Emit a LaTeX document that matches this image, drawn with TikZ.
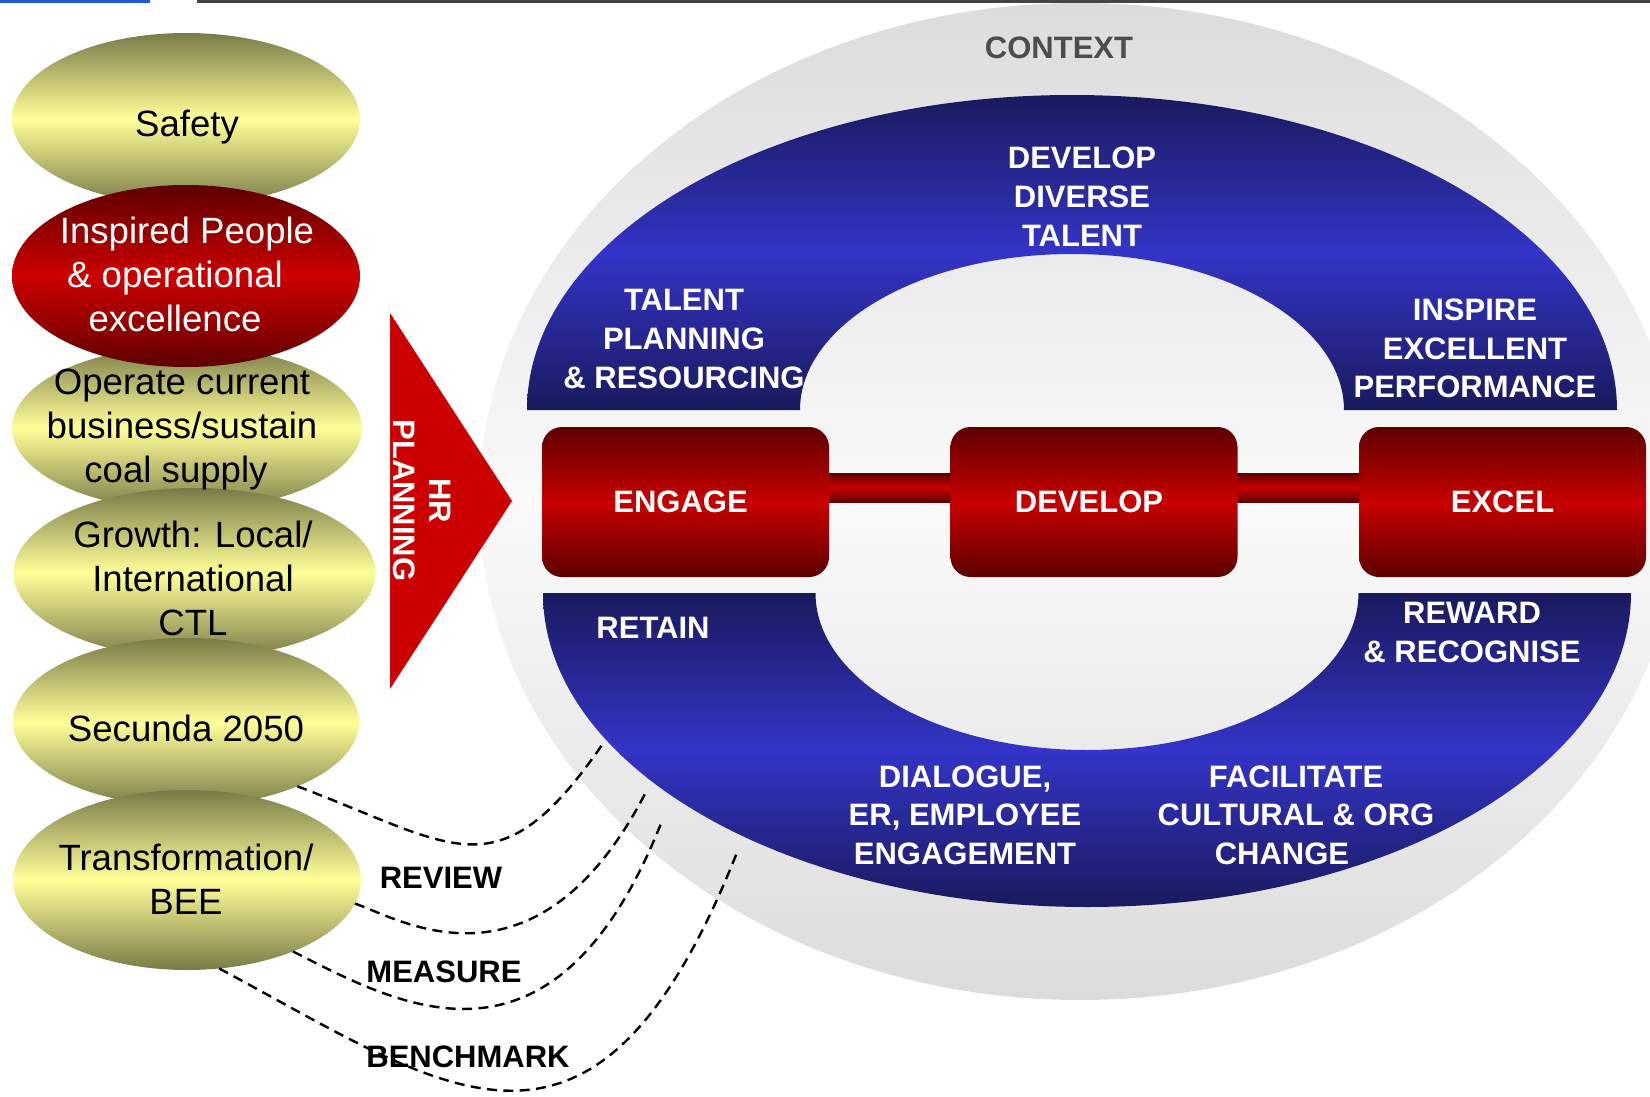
\documentclass[tikz,border=0pt]{standalone}
\usepackage{fontspec}
\setmainfont{Liberation Sans}
\usetikzlibrary{shapes.geometric}

\definecolor{ringdark}{HTML}{1A1A5E}
\definecolor{ringlight}{HTML}{3434C8}
\definecolor{boxdark}{HTML}{5E0000}
\definecolor{boxred}{HTML}{C80000}
\definecolor{yelldark}{HTML}{7A7A48}
\definecolor{yelllight}{HTML}{FFFF99}
\definecolor{ctxgray}{HTML}{DCDCDC}
\definecolor{ctxlight}{HTML}{FAFAFA}
\definecolor{arrowred}{HTML}{CC0000}
\definecolor{ctxtext}{HTML}{4D4D4D}
\definecolor{rulegray}{HTML}{444444}
\definecolor{ruleblue}{HTML}{2457D6}

\tikzset{
  goal/.style={ellipse, inner sep=0pt, outer sep=0pt,
    top color=yelldark, bottom color=yelldark, middle color=yelllight},
  goalhot/.style={ellipse, inner sep=0pt, outer sep=0pt,
    top color=boxdark, bottom color=boxdark, middle color=arrowred},
  goaltext/.style={align=center, font=\fontsize{18.3}{22}\selectfont},
  stage/.style={rounded corners=10pt, minimum width=143.5pt, minimum height=75pt,
    inner sep=0pt, outer sep=0pt, top color=boxdark, bottom color=boxdark,
    middle color=boxred, text=white, font=\bfseries\fontsize{15.5}{19.3}\selectfont},
  ringtext/.style={align=center, text=white, font=\bfseries\fontsize{15.5}{19.3}\selectfont},
  steptext/.style={font=\bfseries\fontsize{15.5}{19.3}\selectfont},
  cycleline/.style={black, line width=1.2pt, dash pattern=on 5pt off 3.2pt},
  barshade/.style={top color=boxdark, bottom color=boxdark, middle color=boxred},
  ringshade/.style={top color=ringdark, bottom color=ringdark, middle color=ringlight}
}

\begin{document}
\begin{tikzpicture}[x=0.5pt, y=-0.5pt]
\useasboundingbox (0,0) rectangle (1650,1097);
\clip (0,0) rectangle (1650,1097);
\fill[white] (0,0) rectangle (1650,1097);

% context halo
\shade[top color=ctxgray, bottom color=ctxgray, middle color=ctxlight]
  (1080,501.5) ellipse [x radius=300.5pt, y radius=249.25pt];
\node[steptext, text=ctxtext] (context) at (1059,47.7) {CONTEXT};

% upper and lower rings
\shade[ringshade] (527,410) arc[start angle=180, end angle=0, x radius=272.5pt, y radius=157.5pt]
  -- (1344,410) arc[start angle=0, end angle=180, x radius=136pt, y radius=78pt] -- cycle;
\shade[ringshade] (543,593) arc[start angle=180, end angle=360, x radius=272pt, y radius=157pt]
  -- (1358.5,593) arc[start angle=360, end angle=180, x radius=135.75pt, y radius=78.5pt] -- cycle;

% engage - develop - excel chain
\node[stage] (engage) at (685.5,502) {ENGAGE\hspace*{5pt}\mbox{}};
\node[stage] (develop) at (1094,502) {DEVELOP\hspace*{5pt}\mbox{}};
\node[stage] (excel) at (1502.5,502) {EXCEL};
\shade[barshade] (engage.east) ++(0,-29) rectangle (develop.west);
\shade[barshade] (develop.east) ++(0,-29) rectangle (excel.west);

% ring labels
\node[ringtext] (diverse) at (1082,196.7) {DEVELOP\\DIVERSE\\TALENT};
\node[ringtext] (planning) at (684,339) {TALENT\\PLANNING\\\& RESOURCING};
\node[ringtext] (inspire) at (1475,348.5) {INSPIRE\\EXCELLENT\\PERFORMANCE};
\node[ringtext] (retain) at (653,628) {RETAIN};
\node[ringtext] (reward) at (1472,632.5) {REWARD\\\& RECOGNISE};
\node[ringtext] (dialogue) at (965,815) {DIALOGUE,\\ER, EMPLOYEE\\ENGAGEMENT};
\node[ringtext] (facilitate) at (1296,815) {FACILITATE\\CULTURAL \& ORG\\CHANGE\hspace*{14pt}\mbox{}};

% HR planning arrow
\fill[arrowred] (390,313) -- (512,501) -- (390,689) -- cycle;
\node[align=center, text=white, rotate=-90, font=\bfseries\fontsize{15.5}{18}\selectfont]
  (hrplan) at (422,500.5) {HR\\PLANNING};

% strategic goals
\node[goal, minimum width=174pt, minimum height=86pt] (safety) at (186,119) {};
\node[goal, minimum width=175pt, minimum height=82pt] (operate) at (187,428) {};
\node[goal, minimum width=181pt, minimum height=85pt] (growth) at (194.5,573) {};
\node[goal, minimum width=173pt, minimum height=84pt] (secunda) at (186,722) {};
\node[goal, minimum width=174pt, minimum height=90pt] (transform) at (187,880) {};
\node[goalhot, minimum width=174pt, minimum height=91pt] (inspired) at (186,276) {};

\node[goaltext, anchor=base] (safetyt) at (187,137) {Safety};
\node[goaltext, text=white] (inspiredt) at (187,274.5)
  {Inspired People\\\& operational\hspace*{12pt}\mbox{}\\excellence\hspace*{12pt}\mbox{}};
\node[goaltext] (operatet) at (182,430) {Operate current\\business/sustain\\coal supply\hspace*{6pt}\mbox{}};
\node[goaltext] (growtht) at (193,578.4) {Growth: Local/\\International\\CTL};
\node[goaltext, anchor=base] (secundat) at (186,741.6) {Secunda 2050};
\node[goaltext] (transformt) at (186,879.2) {Transformation/\\BEE};

% review / measure / benchmark loops
\coordinate (m1) at (602,745);
\coordinate (m2) at (647,790);
\coordinate (m3) at (662,821);
\coordinate (m4) at (738,850);
\draw[cycleline] (secunda.-30) .. controls +(159,60) and +(-104,150) .. (m1);
\draw[cycleline] (transform.-8.5) .. controls +(41,13) and +(-111,217) .. (m2);
\draw[cycleline] (transform.-34.7) .. controls +(105,53) and +(-108,273) .. (m3);
\draw[cycleline] (transform.-70) .. controls +(228,122) and +(-143,362) .. (m4);

\node[steptext] (review) at (441,878.3) {REVIEW};
\node[steptext] (measure) at (444,971.7) {MEASURE};
\node[steptext] (benchmark) at (468,1056.7) {BENCHMARK};

% header rules
\fill[ruleblue] (0,0) rectangle (150,3.5);
\fill[rulegray] (197,0) rectangle (1650,3.5);
\end{tikzpicture}
\end{document}
